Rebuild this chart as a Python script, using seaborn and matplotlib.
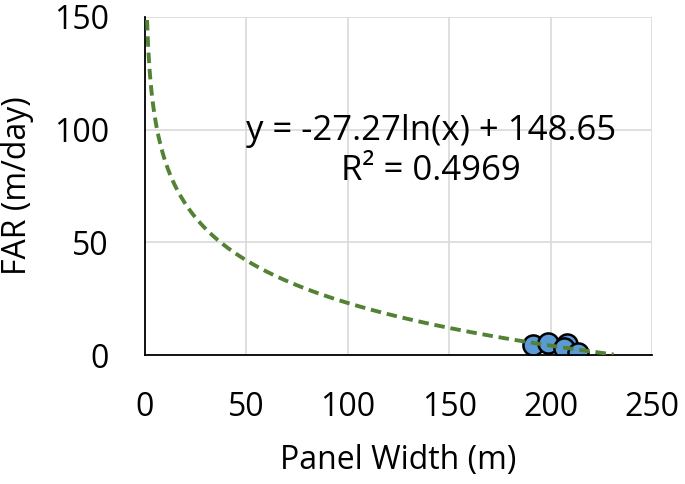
import numpy as np
import pandas as pd
import matplotlib
matplotlib.use("Agg")
import matplotlib.pyplot as plt
import seaborn as sns

# Data
panel_width = [191.5, 198.5, 208.0, 206.5, 213.5]
far = [4.5, 5.3, 5.0, 3.1, 1.0]
# Logarithmic trendline coefficients (y = a ln(x) + b)
trend_a = -27.27
trend_b = 148.65
r_squared = 0.4969
x_ticks = [0, 50, 100, 150, 200, 250]
y_ticks = [0, 50, 100, 150]

sns.set_theme(style="white")
plt.rcParams['font.family'] = ['Open Sans', 'DejaVu Sans']
plt.rcParams['text.color'] = 'black'
plt.rcParams['axes.labelcolor'] = 'black'

fig = plt.figure(figsize=(6.85, 4.84), dpi=100)
ax = fig.add_axes([0.2117, 0.2665, 0.7403, 0.6985])

xs = np.linspace(1, 231, 400)
trend = pd.DataFrame({"x": xs, "y": trend_a * np.log(xs) + trend_b})
sns.lineplot(data=trend, x="x", y="y", ax=ax, color="#548235", lw=2.8,
             linestyle=(0, (2.7, 1.5)), zorder=3)

df = pd.DataFrame({"Panel Width": panel_width, "FAR": far})
sns.scatterplot(data=df, x="Panel Width", y="FAR", ax=ax, s=210,
                color="#5B9BD5", edgecolor="black", linewidth=1.8, zorder=2)

ax.set_xlim(0, 250)
ax.set_ylim(0, 150)
ax.set_xticks(x_ticks)
ax.set_yticks(y_ticks)
ax.grid(True, color="#D9D9D9", lw=1.2)
ax.set_axisbelow(True)
for s in ["top", "right"]:
    ax.spines[s].set_visible(False)
for s in ["left", "bottom"]:
    ax.spines[s].set_color("black")
    ax.spines[s].set_linewidth(1.3)
ax.tick_params(axis="both", length=0, labelsize=23, colors="black")
ax.tick_params(axis="x", pad=26)
ax.tick_params(axis="y", pad=26)
ax.set_xlabel("Panel Width (m)", fontsize=23, labelpad=14)
ax.set_ylabel("FAR (m/day)", fontsize=23, labelpad=14)

ax.text(141, 90.5, f"y = {trend_a}ln(x) + {trend_b}\nR² = {r_squared}",
        ha="center", va="center", fontsize=25, linespacing=1.25)

fig.savefig("out.png", dpi=100)
